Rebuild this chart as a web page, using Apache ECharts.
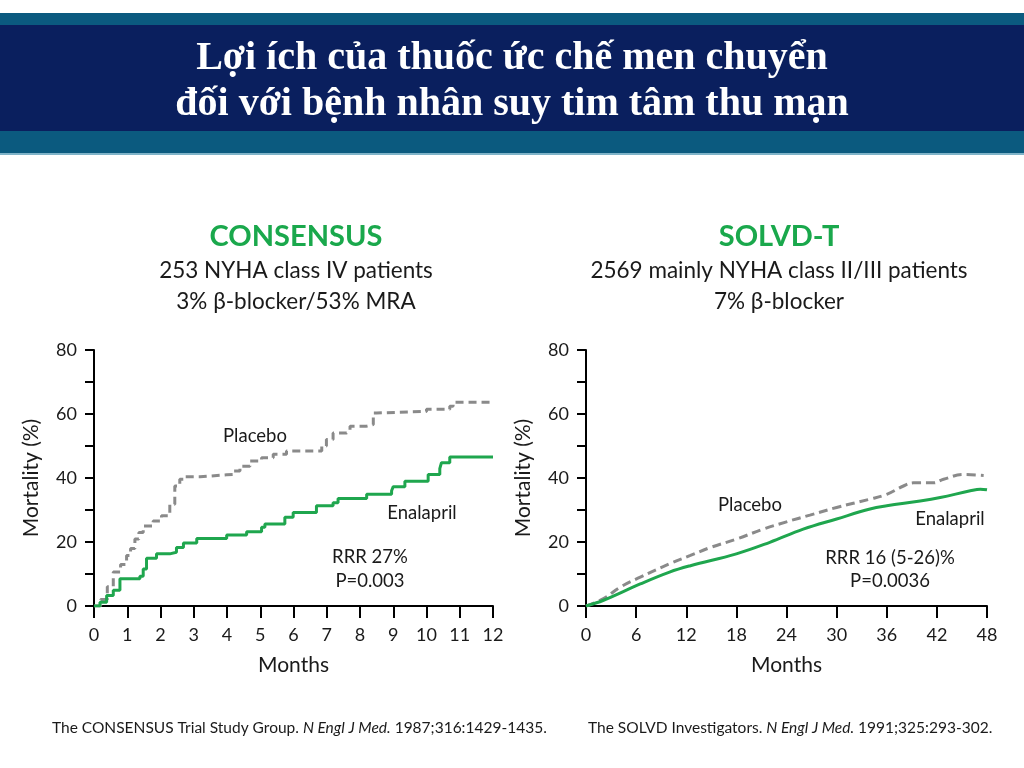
<!DOCTYPE html>
<html><head><meta charset="utf-8">
<script src="https://cdn.jsdelivr.net/npm/echarts@6/dist/echarts.min.js"></script>
<style>html,body{margin:0;padding:0;background:#fff}#c{width:1024px;height:768px}</style>
</head><body><div id="c"></div>
<script>
// CONSENSUS (months, mortality %)
const consensusPlacebo = [[0,0],[0.2,2],[0.4,6],[0.58,10.6],[0.8,13],[0.98,15.8],[1.1,18],[1.23,20.9],[1.35,23],[1.48,25],[1.78,26.6],[2.03,28.2],[2.28,31.8],[2.43,37.5],[2.58,39.6],[2.74,40.4],[3.19,41],[3.99,41.1],[4.19,42.2],[4.39,43.7],[4.69,45.3],[5.04,46.3],[5.39,47.4],[5.79,48.4],[6.74,48.4],[6.85,50],[6.99,52],[7.19,54.1],[7.6,54.6],[7.7,56.2],[8.2,56.7],[8.4,60.3],[8.5,60.8],[9.9,60.8],[10.0,61.5],[10.7,62.4],[10.8,63.7],[12,63.7]];
const consensusEnalapril = [[0,0],[0.18,1.2],[0.38,3.3],[0.58,4.9],[0.78,8.5],[1.38,9.3],[1.48,11.6],[1.58,14.9],[1.88,16.3],[2.28,16.8],[2.48,18.3],[2.69,19.7],[3.09,21.1],[3.99,22.2],[4.59,23.2],[5.04,24.6],[5.14,25.6],[5.74,27.7],[5.99,29.2],[6.69,31.3],[7.19,32.3],[7.34,33.6],[8.2,34.9],[8.95,36],[9.0,37.3],[9.35,39],[10.05,41.1],[10.4,42.9],[10.45,44.8],[10.7,46.6],[12,46.6]];
// SOLVD-T (months, mortality %)
const solvdPlacebo = [[0,0],[2.1,2.3],[4.1,5.9],[6.5,9],[10,13.2],[12.5,15.8],[14.9,18.3],[18,20.9],[21.2,24],[24,26.3],[26.8,28.4],[30,30.8],[34,33.4],[36,34.9],[38,37.5],[39.2,38.5],[41.6,38.5],[42.8,39.6],[45.2,41.1],[47.6,40.8]];
const solvdEnalapril = [[0,0],[2.1,1.8],[6.5,6.9],[10,10.6],[12.5,12.6],[18,16.3],[22,19.9],[26,24],[30,27.2],[34,30.3],[36,31.3],[40,32.8],[42.4,33.9],[46,36],[47.2,36.5],[48,36.3]];
const headerLines = ['Lợi ích của thuốc ức chế men chuyển','đối với bệnh nhân suy tim tâm thu mạn'];
const leftTitle = 'CONSENSUS', rightTitle = 'SOLVD-T';
const leftSub = ['253 NYHA class IV patients','3% β-blocker/53% MRA'];
const rightSub = ['2569 mainly NYHA class II/III patients','7% β-blocker'];
const leftStats = ['RRR 27%','P=0.003'], rightStats = ['RRR 16 (5-26)%','P=0.0036'];
const yName = 'Mortality (%)', xName = 'Months';
const seriesNames = ['Placebo','Enalapril'];

const FONT = 'Lato';
const GREEN = '#1fa64e', GRAY = '#8a8a8a', INK = '#1a1a1a';
const chart = echarts.init(document.getElementById('c'), null, {renderer:'canvas'});

function xAxis(gi, max, interval){
  return {gridIndex:gi, type:'value', min:0, max:max, interval:interval,
    name:xName, nameLocation:'middle', nameGap:49, nameTextStyle:{fontFamily:FONT,fontSize:21,color:INK},
    axisLine:{lineStyle:{color:'#000',width:2}}, axisTick:{length:12,lineStyle:{color:'#000',width:2}},
    axisLabel:{fontFamily:FONT,fontSize:18,color:INK,margin:20}, splitLine:{show:false}};
}
function yAxis(gi){
  return {gridIndex:gi, type:'value', min:0, max:80, interval:10,
    name:yName, nameLocation:'middle', nameGap:52, nameTextStyle:{fontFamily:FONT,fontSize:21,color:INK},
    axisLine:{show:true,lineStyle:{color:'#000',width:2}}, axisTick:{show:true,length:9,lineStyle:{color:'#000',width:2}},
    axisLabel:{fontFamily:FONT,fontSize:18,color:INK,margin:17,formatter:v=> v%20===0? String(v):''}, splitLine:{show:false}};
}
function txt(x,y,t,opt){
  return {type:'text', x:x, y:y, style:Object.assign({text:t, fill:INK, font:'19px '+FONT, textAlign:'center', textVerticalAlign:'middle'}, opt||{})};
}
const graphics = [
  {type:'rect', shape:{x:0,y:13,width:1024,height:141}, style:{fill:'#0b5a7f'}},
  {type:'rect', shape:{x:0,y:25,width:1024,height:106}, style:{fill:'#0a1f5e'}},
  {type:'rect', shape:{x:0,y:153,width:1024,height:2}, style:{fill:'#7fb3c8'}},
  txt(512,59,headerLines[0],{fill:'#fff', font:'bold 40px "Liberation Serif"'}),
  txt(512,105,headerLines[1],{fill:'#fff', font:'bold 40px "Liberation Serif"'}),
  txt(296,237,leftTitle,{fill:'#1aa84c', font:'bold 29px '+FONT}),
  txt(296,271,leftSub[0],{font:'22.5px '+FONT}),
  txt(296,302,leftSub[1],{font:'22.5px '+FONT}),
  txt(779,237,rightTitle,{fill:'#1aa84c', font:'bold 29px '+FONT}),
  txt(779,271,rightSub[0],{font:'22.5px '+FONT}),
  txt(779,302,rightSub[1],{font:'22.5px '+FONT}),
  txt(255,436,seriesNames[0],{font:'18.5px '+FONT}),
  txt(422,513,seriesNames[1],{font:'18.5px '+FONT}),
  txt(370,557,leftStats[0],{font:'18.5px '+FONT}),
  txt(370,581,leftStats[1],{font:'18.5px '+FONT}),
  txt(750,505,seriesNames[0],{font:'18.5px '+FONT}),
  txt(950,519,seriesNames[1],{font:'18.5px '+FONT}),
  txt(890,558,rightStats[0],{font:'18.5px '+FONT}),
  txt(890,581,rightStats[1],{font:'18.5px '+FONT}),
  {type:'text', x:52, y:728, style:{rich:{n:{font:'15.5px '+FONT,fill:INK},i:{font:'italic 15.5px '+FONT,fill:INK}},
     text:'{n|The CONSENSUS Trial Study Group. }{i|N Engl J Med.}{n| 1987;316:1429-1435.}', textVerticalAlign:'middle'}},
  {type:'text', x:588, y:728, style:{rich:{n:{font:'15.5px '+FONT,fill:INK},i:{font:'italic 15.5px '+FONT,fill:INK}},
     text:'{n|The SOLVD Investigators. }{i|N Engl J Med.}{n| 1991;325:293-302.}', textVerticalAlign:'middle'}}
];

chart.setOption({
  animation:false,
  grid:[{left:94,top:350,width:399,height:256},{left:586,top:350,width:401,height:256}],
  xAxis:[xAxis(0,12,1), xAxis(1,48,6)],
  yAxis:[yAxis(0), yAxis(1)],
  series:[
    {name:seriesNames[0],type:'line',xAxisIndex:0,yAxisIndex:0,step:'end',data:consensusPlacebo,showSymbol:false,z:3,
      lineStyle:{color:GRAY,width:3,type:[8,5]}},
    {name:seriesNames[1],type:'line',xAxisIndex:0,yAxisIndex:0,step:'end',data:consensusEnalapril,showSymbol:false,z:4,
      lineStyle:{color:GREEN,width:3}},
    {name:seriesNames[0],type:'line',xAxisIndex:1,yAxisIndex:1,smooth:0.4,data:solvdPlacebo,showSymbol:false,z:3,
      lineStyle:{color:GRAY,width:3,type:[9,5]}},
    {name:seriesNames[1],type:'line',xAxisIndex:1,yAxisIndex:1,smooth:0.4,data:solvdEnalapril,showSymbol:false,z:4,
      lineStyle:{color:GREEN,width:3}}
  ],
  graphic:graphics
});
</script></body></html>
